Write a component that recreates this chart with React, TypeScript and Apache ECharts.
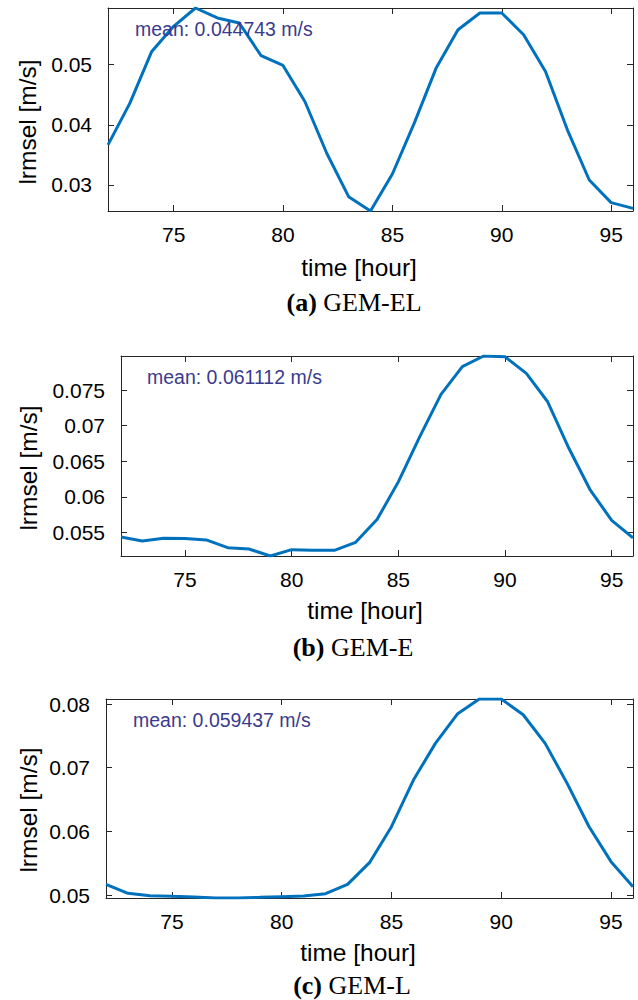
import React, { useEffect, useRef } from "react";
import * as echarts from "echarts";

const hours = [72, 73, 74, 75, 76, 77, 78, 79, 80, 81, 82, 83, 84, 85, 86, 87, 88, 89, 90, 91, 92, 93, 94, 95, 96];

const gemEL = [0.03667, 0.04361, 0.05222, 0.05639, 0.05944, 0.05778, 0.05694, 0.0515, 0.04989, 0.04389, 0.03528, 0.02806, 0.02567, 0.03183, 0.04028, 0.04944, 0.05583, 0.05861, 0.05861, 0.055, 0.04889, 0.03917, 0.03083, 0.02706, 0.02611];
const gemE = [0.05439, 0.05383, 0.0542, 0.05416, 0.05397, 0.05289, 0.0527, 0.05172, 0.05261, 0.05252, 0.05252, 0.05364, 0.05683, 0.06212, 0.06844, 0.07439, 0.07828, 0.07978, 0.07968, 0.07734, 0.07336, 0.0668, 0.06095, 0.05673, 0.05425];
const gemL = [0.05168, 0.05026, 0.0499, 0.04979, 0.04969, 0.04953, 0.04953, 0.04963, 0.04974, 0.04984, 0.05021, 0.05168, 0.05508, 0.06073, 0.06806, 0.07382, 0.07843, 0.08079, 0.08079, 0.07832, 0.07382, 0.06754, 0.06073, 0.05524, 0.05131];

const xTickValues = [75, 80, 85, 90, 95];
const xTickLabels = ["75", "80", "85", "90", "95"];

const yTicksEL = [0.03, 0.04, 0.05];
const yLabelsEL = ["0.03", "0.04", "0.05"];
const yTicksE = [0.055, 0.06, 0.065, 0.07, 0.075];
const yLabelsE = ["0.055", "0.06", "0.065", "0.07", "0.075"];
const yTicksL = [0.05, 0.06, 0.07, 0.08];
const yLabelsL = ["0.05", "0.06", "0.07", "0.08"];

const meanTexts = ["mean: 0.044743 m/s", "mean: 0.061112 m/s", "mean: 0.059437 m/s"];
const captionLetters = ["(a)", "(b)", "(c)"];
const captionNames = ["GEM-EL", "GEM-E", "GEM-L"];
const xTitle = "time [hour]";
const yTitle = "lrmsel [m/s]";

const AXIS = "#262626";
const LINE = "#0072BD";
const MEAN = "#3b3b8e";
const SANS = "'Liberation Sans', Arial, Helvetica, sans-serif";
const SERIF = "'Liberation Serif', 'Times New Roman', serif";

const panels = [
  { data: gemEL, yTicks: yTicksEL, yLabels: yLabelsEL, left: 108, top: 8, width: 525, height: 203, meanX: 135, meanY: 29, yTitleX: 27, yTitleY: 122, xTitleX: 359, xTitleY: 267, capX: 354, capY: 302 },
  { data: gemE, yTicks: yTicksE, yLabels: yLabelsE, left: 121, top: 356, width: 512, height: 200, meanX: 147, meanY: 377, yTitleX: 28, yTitleY: 468, xTitleX: 365, xTitleY: 610, capX: 353, capY: 647 },
  { data: gemL, yTicks: yTicksL, yLabels: yLabelsL, left: 106, top: 699, width: 527, height: 199, meanX: 133, meanY: 720, yTitleX: 28, yTitleY: 810, xTitleX: 358, xTitleY: 952, capX: 352, capY: 985 },
];

export default function App() {
  const ref = useRef<HTMLDivElement>(null);

  useEffect(() => {
    if (!ref.current) return;
    const chart = echarts.init(ref.current, null, { renderer: "svg" });

    const xMin = Math.min(...hours);
    const xMax = Math.max(...hours);

    const grids: any[] = [];
    const xAxes: any[] = [];
    const yAxes: any[] = [];
    const series: any[] = [];
    const graphics: any[] = [];

    const axisLine = { show: true, onZero: false, lineStyle: { color: AXIS, width: 1 } };

    panels.forEach((p, i) => {
      const yMin = Math.min(...p.data);
      const yMax = Math.max(...p.data);
      grids.push({ left: p.left, top: p.top, width: p.width, height: p.height, containLabel: false });

      const xFmt = (v: number) => {
        const k = xTickValues.indexOf(v);
        return k >= 0 ? xTickLabels[k] : String(v);
      };
      const yFmt = (v: number) => {
        let best = 0;
        p.yTicks.forEach((t, k) => {
          if (Math.abs(t - v) < Math.abs(p.yTicks[best] - v)) best = k;
        });
        return p.yLabels[best];
      };

      xAxes.push({
        type: "value", gridIndex: i, position: "bottom", min: xMin, max: xMax,
        axisLine,
        axisTick: { show: true, inside: true, length: 6, customValues: xTickValues, lineStyle: { color: AXIS } },
        axisLabel: { show: true, customValues: xTickValues, formatter: xFmt, margin: 13, fontSize: 21, color: "#000", fontFamily: SANS },
        splitLine: { show: false },
      });
      xAxes.push({
        type: "value", gridIndex: i, position: "top", min: xMin, max: xMax,
        axisLine,
        axisTick: { show: true, inside: true, length: 6, customValues: xTickValues, lineStyle: { color: AXIS } },
        axisLabel: { show: false },
        splitLine: { show: false },
      });
      yAxes.push({
        type: "value", gridIndex: i, position: "left", min: yMin, max: yMax,
        axisLine,
        axisTick: { show: true, inside: true, length: 6, customValues: p.yTicks, lineStyle: { color: AXIS } },
        axisLabel: { show: true, customValues: p.yTicks, formatter: yFmt, margin: 16, fontSize: 21, color: "#000", fontFamily: SANS },
        splitLine: { show: false },
      });
      yAxes.push({
        type: "value", gridIndex: i, position: "right", min: yMin, max: yMax,
        axisLine,
        axisTick: { show: true, inside: true, length: 6, customValues: p.yTicks, lineStyle: { color: AXIS } },
        axisLabel: { show: false },
        splitLine: { show: false },
      });

      series.push({
        type: "line",
        xAxisIndex: 2 * i,
        yAxisIndex: 2 * i,
        data: hours.map((h, j) => [h, p.data[j]]),
        symbol: "none",
        lineStyle: { color: LINE, width: 3 },
        itemStyle: { color: LINE },
        z: 3,
      });

      graphics.push({
        type: "text", x: p.meanX, y: p.meanY, z: 10,
        style: { text: meanTexts[i], fill: MEAN, fontSize: 19.5, fontFamily: SANS, align: "left", verticalAlign: "middle" },
      });
      graphics.push({
        type: "text", x: p.yTitleX, y: p.yTitleY, rotation: Math.PI / 2,
        style: { text: yTitle, fill: "#000", fontSize: 24.5, fontFamily: SANS, align: "center", verticalAlign: "middle" },
      });
      graphics.push({
        type: "text", x: p.xTitleX, y: p.xTitleY,
        style: { text: xTitle, fill: "#000", fontSize: 24.5, fontFamily: SANS, align: "center", verticalAlign: "middle" },
      });
      graphics.push({
        type: "text", x: p.capX, y: p.capY,
        style: {
          text: "{b|" + captionLetters[i] + "} " + captionNames[i],
          fill: "#000", fontSize: 26, fontFamily: SERIF, align: "center", verticalAlign: "middle",
          rich: { b: { fontWeight: "bold", fontSize: 26, fontFamily: SERIF, fill: "#000" } },
        },
      });
    });

    chart.setOption({
      animation: false,
      backgroundColor: "#fff",
      grid: grids,
      xAxis: xAxes,
      yAxis: yAxes,
      series,
      graphic: graphics,
    });

    return () => chart.dispose();
  }, []);

  return (
    <div
      ref={ref}
      style={{ position: "absolute", left: 0, top: 0, width: 638, height: 1000, background: "#fff" }}
    />
  );
}
